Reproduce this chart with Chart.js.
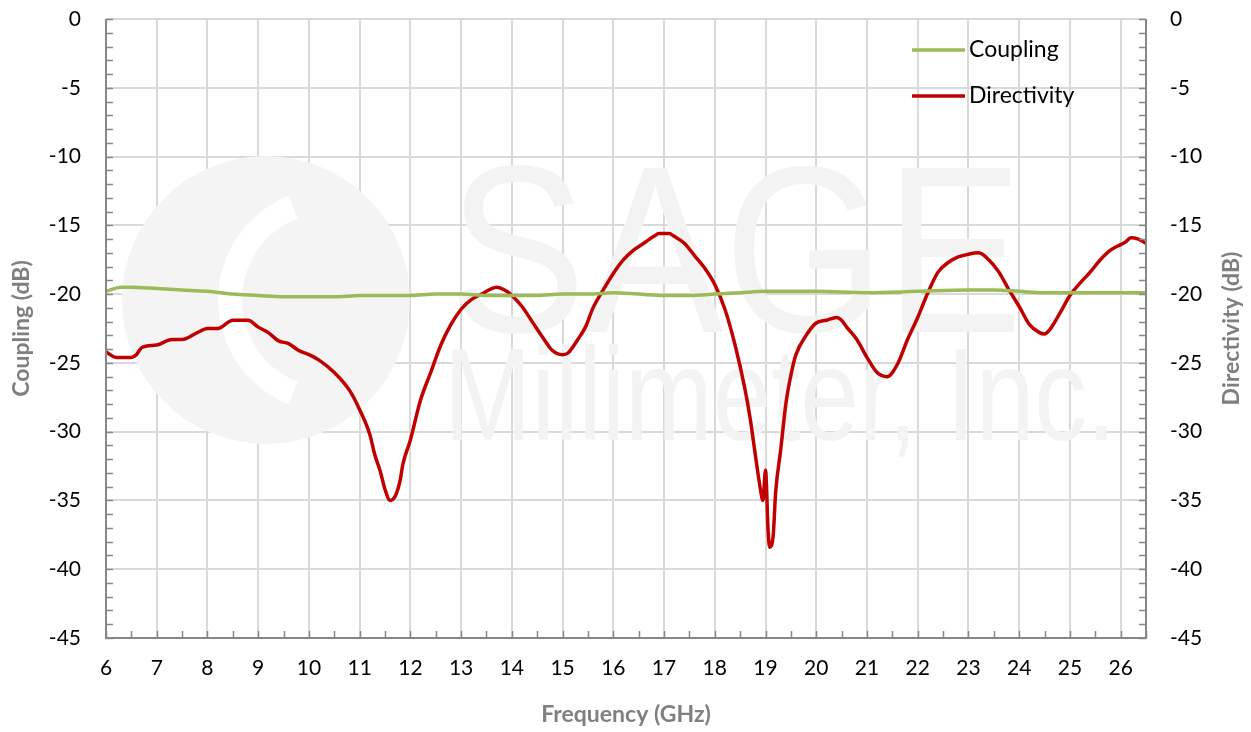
<!DOCTYPE html>
<html>
<head>
<meta charset="utf-8">
<script src="https://cdn.jsdelivr.net/npm/chart.js@4.4.1/dist/chart.umd.min.js"></script>
<style>
  html, body { margin: 0; padding: 0; background: #fff; }
  #wrap { width: 1251px; height: 732px; }
</style>
</head>
<body>
<div id="wrap"><canvas id="couplerChart" width="1251" height="732"></canvas></div>
<script>
// frequency (GHz) and levels (dB)
const couplingFreq = [6, 6.3, 6.5, 7, 7.5, 8, 8.5, 9, 9.5, 10, 10.5, 11, 12, 12.5, 13, 13.5, 14, 14.5, 15, 15.5, 16, 16.5, 17, 17.5, 18, 18.5, 19, 20, 21, 22, 23, 23.5, 24, 24.5, 25, 26, 26.5];
const couplingDb = [-19.8, -19.5, -19.5, -19.6, -19.7, -19.8, -20.0, -20.1, -20.2, -20.2, -20.2, -20.1, -20.1, -20.0, -20.0, -20.1, -20.1, -20.1, -20.0, -20.0, -19.9, -20.0, -20.1, -20.1, -20.0, -19.9, -19.8, -19.8, -19.9, -19.8, -19.7, -19.7, -19.8, -19.9, -19.9, -19.9, -19.9];

const directFreq = [6, 6.2, 6.5, 6.6, 6.7, 7, 7.3, 7.5, 7.8, 8, 8.2, 8.5, 8.8, 9, 9.2, 9.4, 9.6, 9.8, 10, 10.2, 10.5, 10.8, 11, 11.2, 11.3, 11.4, 11.5, 11.6, 11.7, 11.8, 11.85, 12, 12.2, 12.4, 12.6, 12.8, 13, 13.2, 13.4, 13.6, 13.7, 13.9, 14, 14.2, 14.4, 14.6, 14.8, 15, 15.1, 15.3, 15.45, 15.6, 15.8, 16, 16.2, 16.4, 16.6, 16.8, 16.9, 17.1, 17.2, 17.4, 17.6, 17.8, 18, 18.2, 18.4, 18.6, 18.7, 18.8, 18.9, 18.95, 19, 19.05, 19.08, 19.15, 19.2, 19.3, 19.4, 19.5, 19.6, 19.8, 20, 20.2, 20.4, 20.5, 20.6, 20.8, 21, 21.2, 21.4, 21.6, 21.8, 22, 22.2, 22.4, 22.6, 22.8, 23, 23.2, 23.4, 23.6, 23.8, 24, 24.2, 24.4, 24.5, 24.6, 24.8, 25, 25.2, 25.4, 25.6, 25.8, 26, 26.1, 26.2, 26.35, 26.5];
const directDb = [-24.2, -24.6, -24.6, -24.4, -23.9, -23.7, -23.3, -23.3, -22.8, -22.5, -22.5, -21.9, -21.9, -22.4, -22.8, -23.4, -23.6, -24.1, -24.4, -24.8, -25.7, -27.0, -28.4, -30.2, -31.7, -32.8, -34.2, -35.0, -34.7, -33.5, -32.4, -30.6, -27.7, -25.7, -23.7, -22.2, -21.1, -20.4, -20.0, -19.6, -19.5, -19.8, -20.1, -20.9, -22.0, -23.1, -24.1, -24.4, -24.3, -23.3, -22.4, -21.0, -19.7, -18.5, -17.5, -16.8, -16.3, -15.8, -15.6, -15.6, -15.8, -16.3, -17.2, -18.1, -19.3, -21.1, -23.7, -27.0, -29.1, -31.7, -34.2, -35.0, -32.8, -37.1, -38.4, -37.6, -34.4, -31.3, -28.0, -25.9, -24.4, -23.0, -22.1, -21.9, -21.7, -21.9, -22.4, -23.3, -24.6, -25.7, -26.0, -25.1, -23.3, -21.7, -19.9, -18.4, -17.7, -17.3, -17.1, -17.0, -17.5, -18.4, -19.7, -20.9, -22.2, -22.8, -22.9, -22.6, -21.4, -20.1, -19.2, -18.4, -17.5, -16.8, -16.4, -16.2, -15.9, -16.0, -16.3];

const xMin = 6, xMax = 26.5;
const yMin = -45, yMax = 0;

const FONT = "Lato, 'Open Sans', sans-serif";
const TITLE_FONT = "bold 23px " + FONT;

function toPoints(xs, ys) {
    return xs.map(function (x, i) { return { x: x, y: ys[i] }; });
}

// faint company watermark behind the curves
const watermark = {
    id: "watermark",
    beforeDatasetsDraw: function (chart) {
        const ctx = chart.ctx;
        ctx.save();
        ctx.fillStyle = "#f4f4f4";
        ctx.beginPath();
        ctx.arc(266, 300, 144, 0, Math.PI * 2);
        ctx.fill();
        ctx.strokeStyle = "#ffffff";
        ctx.lineWidth = 24;
        ctx.beginPath();
        ctx.arc(330, 300, 100, Math.PI * 0.62, Math.PI * 1.38);
        ctx.stroke();
        ctx.fillStyle = "#f3f3f3";
        ctx.font = "237px 'Liberation Sans', sans-serif";
        ctx.textBaseline = "alphabetic";
        ctx.fillText("SAGE", 448, 332, 575);
        ctx.font = "132px 'Liberation Sans', sans-serif";
        ctx.fillText("Millimeter, Inc.", 444, 440, 672);
        ctx.restore();
    }
};

// inward tick marks, the dark axis lines and the right axis title
const axisFrame = {
    id: "axisFrame",
    afterDatasetsDraw: function (chart) {
        const ctx = chart.ctx;
        const a = chart.chartArea;
        const y = chart.scales.y;
        const x = chart.scales.x;
        ctx.save();
        ctx.strokeStyle = "#868686";
        ctx.lineWidth = 1.5;
        for (let v = yMin; v <= yMax; v++) {
            const py = Math.round(y.getPixelForValue(v)) + 0.5;
            ctx.beginPath();
            ctx.moveTo(a.left, py); ctx.lineTo(a.left + 7, py);
            ctx.moveTo(a.right, py); ctx.lineTo(a.right - 7, py);
            ctx.stroke();
        }
        for (let v = xMin; v <= xMax; v += 0.5) {
            const px = Math.round(x.getPixelForValue(v)) + 0.5;
            ctx.beginPath();
            ctx.moveTo(px, a.bottom); ctx.lineTo(px, a.bottom - 7);
            ctx.stroke();
        }
        ctx.lineWidth = 2;
        ctx.beginPath();
        ctx.moveTo(a.left, a.top); ctx.lineTo(a.left, a.bottom); ctx.lineTo(a.right, a.bottom); ctx.lineTo(a.right, a.top);
        ctx.stroke();

        // right title reads bottom to top like the left one
        ctx.translate(1232, (a.top + a.bottom) / 2);
        ctx.rotate(-Math.PI / 2);
        ctx.font = TITLE_FONT;
        ctx.fillStyle = "#7f7f7f";
        ctx.textAlign = "center";
        ctx.textBaseline = "middle";
        ctx.fillText("Directivity (dB)", 0, 0);
        ctx.restore();
    }
};

// legend drawn in the upper right of the plot
const innerLegend = {
    id: "innerLegend",
    afterDraw: function (chart) {
        const ctx = chart.ctx;
        ctx.save();
        ctx.font = "23px " + FONT;
        ctx.textBaseline = "middle";
        chart.data.datasets.forEach(function (ds, i) {
            const ly = 50 + i * 46;
            ctx.strokeStyle = ds.borderColor;
            ctx.lineWidth = 3.5;
            ctx.beginPath();
            ctx.moveTo(912, ly); ctx.lineTo(965, ly);
            ctx.stroke();
            ctx.fillStyle = "#000";
            ctx.fillText(ds.label, 969, ly);
        });
        ctx.restore();
    }
};

function noPad(s) {
    s.paddingTop = 0; s.paddingBottom = 0;
    s.paddingLeft = 0; s.paddingRight = 0;
}

const ctx = document.getElementById("couplerChart").getContext("2d");

new Chart(ctx, {
    type: "line",
    data: {
        datasets: [{
            label: "Coupling",
            data: toPoints(couplingFreq, couplingDb),
            borderColor: "#9bbb59",
            borderWidth: 3.5,
            pointRadius: 0,
            cubicInterpolationMode: "monotone",
            yAxisID: "y"
        }, {
            label: "Directivity",
            data: toPoints(directFreq, directDb),
            borderColor: "#c00000",
            borderWidth: 3.5,
            pointRadius: 0,
            cubicInterpolationMode: "monotone",
            yAxisID: "y"
        }]
    },
    options: {
        responsive: false,
        animation: false,
        layout: { padding: { top: 19, left: 0, right: 0, bottom: 0 } },
        plugins: { legend: { display: false }, tooltip: { enabled: false } },
        scales: {
            x: {
                type: "linear",
                min: xMin, max: xMax,
                afterFit: function (s) { s.height = 94; noPad(s); },
                ticks: {
                    stepSize: 0.5,
                    color: "#000",
                    font: { family: FONT, size: 21 },
                    padding: 18,
                    maxRotation: 0,
                    autoSkip: false,
                    callback: function (v) { return Number.isInteger(v) ? v : ""; }
                },
                grid: {
                    drawTicks: false,
                    lineWidth: 2,
                    color: function (c) { return Number.isInteger(c.tick.value) ? "#d9d9d9" : "transparent"; }
                },
                border: { display: false },
                title: {
                    display: true, text: "Frequency (GHz)", color: "#7f7f7f",
                    font: { family: FONT, size: 23, weight: "bold" },
                    padding: { top: 0, bottom: 4 }
                }
            },
            y: {
                position: "left",
                min: yMin, max: yMax,
                afterFit: function (s) { s.width = 106; noPad(s); },
                ticks: {
                    stepSize: 1,
                    color: "#000",
                    font: { family: FONT, size: 21 },
                    padding: 25,
                    autoSkip: false,
                    callback: function (v) { return v % 5 === 0 ? v : ""; }
                },
                grid: {
                    drawTicks: false,
                    lineWidth: 2,
                    color: function (c) { return c.tick.value % 5 === 0 ? "#d9d9d9" : "transparent"; }
                },
                border: { display: false },
                title: {
                    display: true, text: "Coupling (dB)", color: "#7f7f7f",
                    font: { family: FONT, size: 23, weight: "bold" },
                    padding: { top: 8, bottom: 0 }
                }
            },
            y1: {
                position: "right",
                min: yMin, max: yMax,
                afterFit: function (s) { s.width = 105; noPad(s); },
                ticks: {
                    stepSize: 1,
                    color: "#000",
                    font: { family: FONT, size: 21 },
                    padding: 24,
                    autoSkip: false,
                    callback: function (v) { return v % 5 === 0 ? v : ""; }
                },
                grid: { display: false, drawTicks: false },
                border: { display: false }
            }
        }
    },
    plugins: [watermark, axisFrame, innerLegend]
});
</script>
</body>
</html>
